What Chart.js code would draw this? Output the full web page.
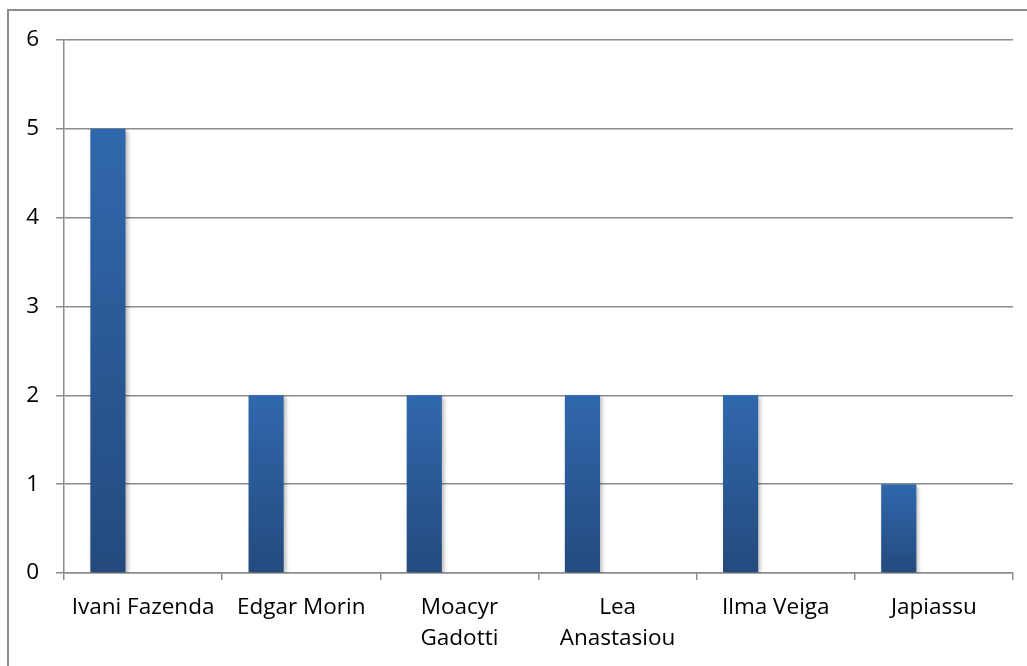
<!DOCTYPE html>
<html>
<head>
<meta charset="utf-8">
<script src="https://cdn.jsdelivr.net/npm/chart.js@4/dist/chart.umd.min.js"></script>
<style>
  html, body { margin: 0; padding: 0; background: #fff; }
  #wrap { width: 1027px; height: 666px; }
</style>
</head>
<body>
<div id="wrap"><canvas id="myChart"></canvas></div>
<script>
const categories = ['Ivani Fazenda', 'Edgar Morin', ['Moacyr', 'Gadotti'], ['Lea', 'Anastasiou'], 'Ilma Veiga', 'Japiassu'];
const values = [5, 2, 2, 2, 2, 1];
const yTicks = [0, 1, 2, 3, 4, 5, 6];

const GRID = '#8c8c8c';

function barGradient(ctx) {
  const chart = ctx.chart;
  if (!chart.chartArea || ctx.parsed == null) return '#2b5c9c';
  const y = chart.scales.y;
  const top = y.getPixelForValue(ctx.parsed.y);
  const bottom = y.getPixelForValue(0);
  if (!(bottom > top)) return '#2b5c9c';
  const g = chart.ctx.createLinearGradient(0, top, 0, bottom);
  g.addColorStop(0, '#3068ad');
  g.addColorStop(1, '#244a7d');
  return g;
}

const frame = {
  id: 'frame',
  beforeDraw(chart) {
    const c = chart.ctx;
    c.save();
    c.fillStyle = '#fff';
    c.fillRect(0, 0, chart.width, chart.height);
    c.strokeStyle = GRID;
    c.lineWidth = 2;
    c.strokeRect(8, 10, chart.width + 20, chart.height + 20);
    c.restore();
  },
  beforeDatasetsDraw(chart) {
    const c = chart.ctx;
    c.save();
    c.shadowColor = 'rgba(0,0,0,0.28)';
    c.shadowBlur = 4;
    c.shadowOffsetX = 2;
    c.shadowOffsetY = 2;
  },
  afterDatasetsDraw(chart) {
    chart.ctx.restore();
  }
};

new Chart(document.getElementById('myChart'), {
  type: 'bar',
  data: {
    labels: categories,
    datasets: [
      { data: values, backgroundColor: barGradient, borderWidth: 0 },
      { data: values.map(() => null) },
      { data: values.map(() => null) }
    ]
  },
  options: {
    responsive: true,
    maintainAspectRatio: false,
    animation: false,
    categoryPercentage: 3 / 4.5,
    barPercentage: 1,
    layout: { padding: { left: 0, top: 40, right: 14, bottom: 0 } },
    plugins: { legend: { display: false }, tooltip: { enabled: false } },
    scales: {
      x: {
        afterFit(scale) { scale.height = 93; },
        grid: { drawOnChartArea: false, drawTicks: true, tickLength: 7, color: GRID, lineWidth: 1.5, offset: true },
        border: { display: true, color: GRID, width: 1.5 },
        ticks: {
          color: '#000',
          font: { family: 'Open Sans', size: 22.5, lineHeight: 1.38 },
          padding: 12,
          maxRotation: 0,
          autoSkip: false
        }
      },
      y: {
        min: 0,
        max: 6,
        afterFit(scale) { scale.width = 64; },
        afterBuildTicks(scale) { scale.ticks = yTicks.map(v => ({ value: v })); },
        grid: { color: GRID, lineWidth: 1.5, tickLength: 8 },
        border: { display: true, color: GRID, width: 1.5 },
        ticks: {
          color: '#000',
          font: { family: 'Open Sans', size: 22.5 },
          padding: 17
        }
      }
    }
  },
  plugins: [frame]
});
</script>
</body>
</html>
